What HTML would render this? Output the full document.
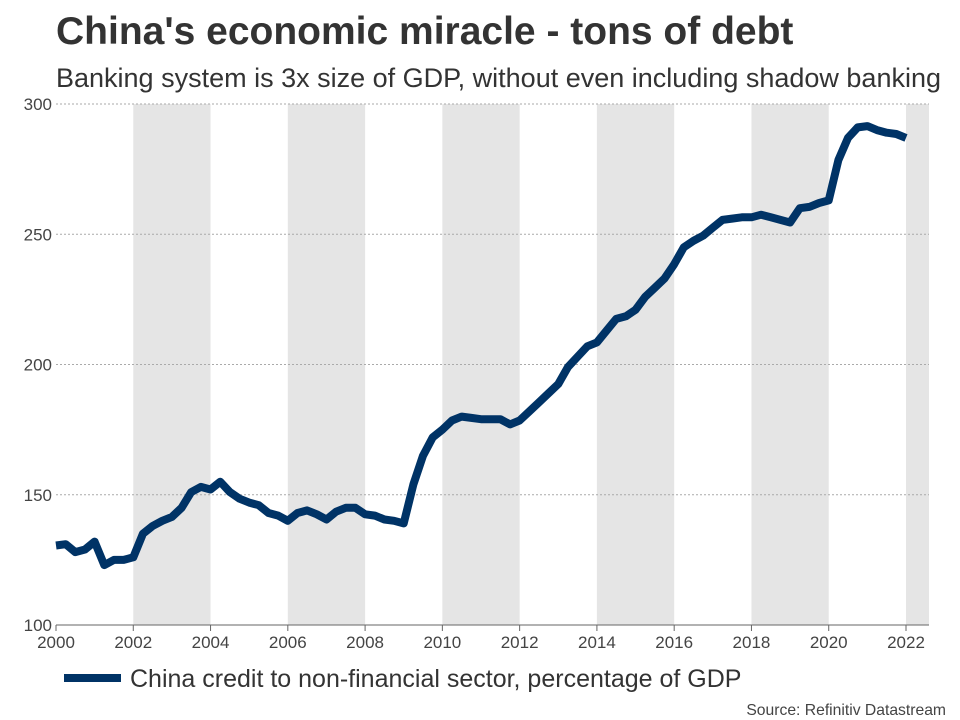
<!DOCTYPE html>
<html><head><meta charset="utf-8"><style>
body{margin:0;background:#fff;font-family:"Liberation Sans",sans-serif;}
#wrap{position:relative;width:960px;height:720px;overflow:hidden;}
</style></head><body>
<div id="wrap">
<svg id="chart" width="960" height="720">
<text x="56" y="44" font-size="39" font-weight="bold" fill="#333">China's economic miracle - tons of debt</text>
<text x="56" y="87" font-size="27" fill="#333">Banking system is 3x size of GDP, without even including shadow banking</text>
<g id="bands"></g><g id="grid"></g><g id="axes"></g><g id="series"></g>
<line x1="64" y1="678" x2="121" y2="678" stroke="#003366" stroke-width="8"/>
<text x="130" y="687" font-size="25" fill="#333">China credit to non-financial sector, percentage of GDP</text>
<text x="946" y="715" font-size="15.7" fill="#444" text-anchor="end">Source: Refinitiv Datastream</text>
</svg></div>
<script>
const yearTicks=[2000,2002,2004,2006,2008,2010,2012,2014,2016,2018,2020,2022];
const yTicks=[100,150,200,250,300];
const shadedStarts=[2002,2006,2010,2014,2018,2022];
const startYear=2000;
const values=[130.5,131,128,129,132,123,125,125,126,135,138,140,141.5,145,151,153,152,155,151,148.5,147,146,143,142,140,143,144,142.5,140.5,143.5,145,145,142.5,142,140.5,140,139,154,165,172,175,178.5,180,179.5,179,179,179,177,178.5,182,185.5,189,192.5,199,203,207,208.5,213,217.5,218.5,221,226,229.5,233,238.5,245,247.5,249.5,252.5,255.5,256,256.5,256.5,257.5,256.5,255.5,254.5,260,260.5,262,263,278.5,287,291,291.5,290,289,288.5,287];
const L=56,R=929,T=104,B=625;
const xs=v=>L+(v-2000)*(906-56)/22;
const ys=v=>B-(v-100)*(B-T)/200;
const NS="http://www.w3.org/2000/svg";
function mk(t,a,p){const e=document.createElementNS(NS,t);for(const k in a)e.setAttribute(k,a[k]);p.appendChild(e);return e;}
const bands=document.getElementById('bands'),grid=document.getElementById('grid'),axes=document.getElementById('axes'),series=document.getElementById('series');
shadedStarts.forEach(s=>{const x1=xs(s),x2=Math.min(xs(s+2),R);
const r=mk('rect',{x:x1,y:T,width:x2-x1,height:B-T,fill:'#e5e5e5'},bands);

});
yTicks.forEach(v=>{const y=ys(v);
const g=mk('line',{x1:L,x2:R,y1:y,y2:y,stroke:'#aaa','stroke-dasharray':'2,2','stroke-width':1},grid);


const t=mk('text',{x:L-4,y:y+6,'font-size':17,fill:'#444','text-anchor':'end'},axes);t.textContent=v;

});
const ax=mk('line',{x1:L,x2:R,y1:B,y2:B,stroke:'#666','stroke-width':1},axes);


yearTicks.forEach(v=>{const x=xs(v);
const tk=mk('line',{x1:x,x2:x,y1:B,y2:B+6,stroke:'#666'},axes);


const t=mk('text',{x:x,y:B+23,'font-size':17,fill:'#444','text-anchor':'middle'},axes);t.textContent=v;

});
const pts=values.map((v,i)=>xs(startYear+i/4).toFixed(1)+','+ys(v).toFixed(1)).join(' ');
const pl=mk('polyline',{points:pts,fill:'none',stroke:'#003366','stroke-width':8,'stroke-linejoin':'round'},series);


</script>
</body></html>
